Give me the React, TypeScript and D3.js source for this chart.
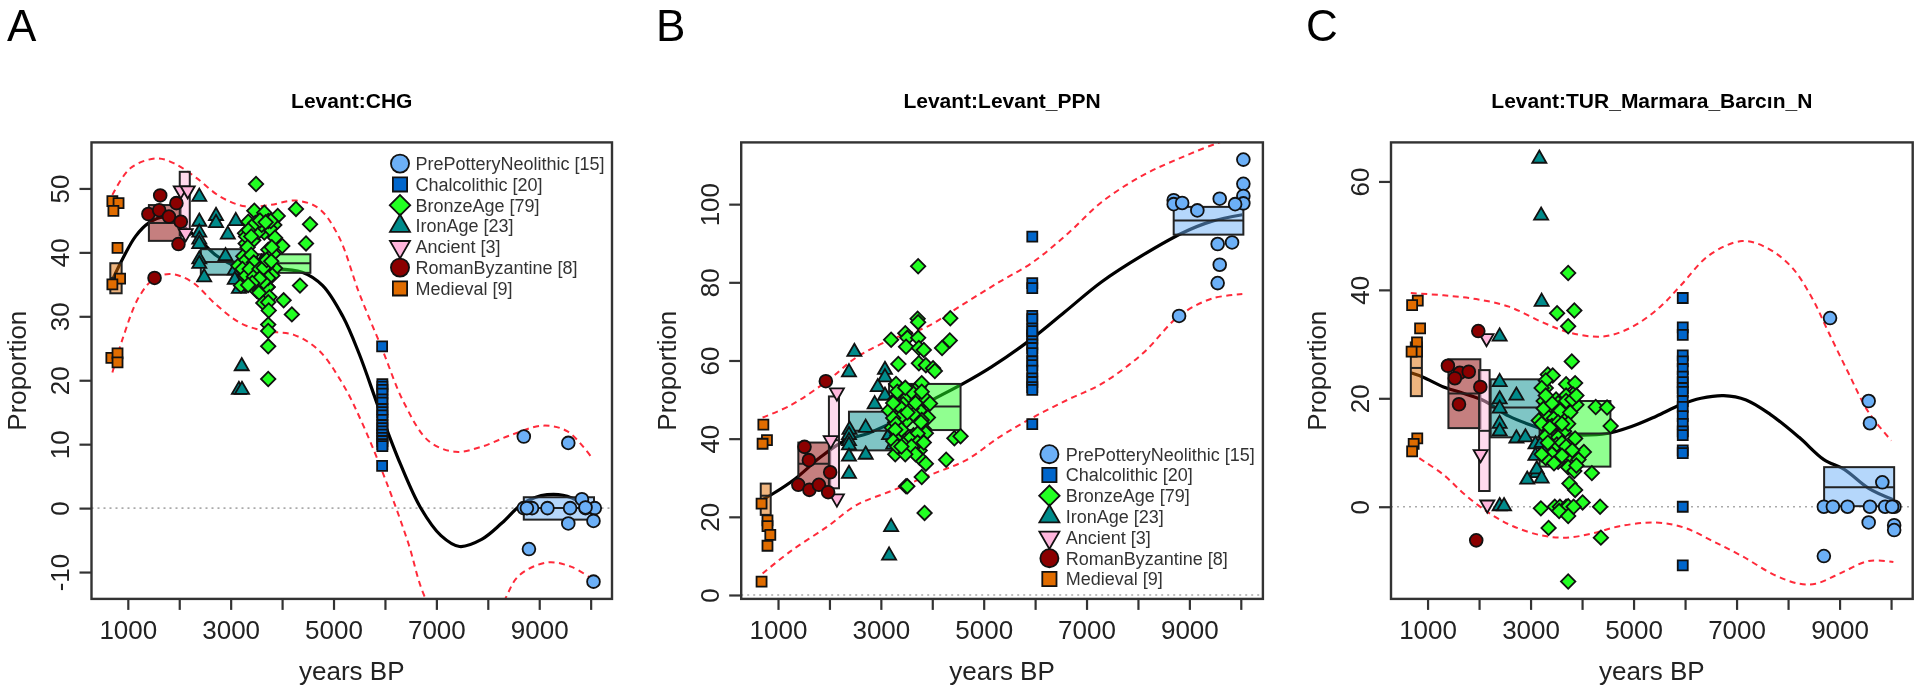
import { useEffect, useRef } from "react";
import * as d3 from "d3";

type Pt = [number, number];
// group index, x min, x max, q1, median, q3
type Box = [number, number, number, number, number, number];

const groupNames = [
  "PrePotteryNeolithic [15]",
  "Chalcolithic [20]",
  "BronzeAge [79]",
  "IronAge [23]",
  "Ancient [3]",
  "RomanByzantine [8]",
  "Medieval [9]",
];
const groupFill = ["#6cb0f7", "#0066cc", "#22ff22", "#008b8b", "#ffb6dc", "#8b0000", "#e06c00"];
// order the groups are painted in
const drawOrder = [0, 1, 6, 3, 4, 5, 2];

const xTicks = [1000, 2000, 3000, 4000, 5000, 6000, 7000, 8000, 9000, 10000];
const xLabelled = [1000, 3000, 5000, 7000, 9000];

// ---- Levant:CHG ----
const chgPPN: Pt[] = [[8700, 0], [8700, 11.2], [8860, 0], [8800, -6.4], [9160, 0], [9565, 10.2], [9565, -2.4], [9600, 0], [9830, 1.4], [9900, 0], [10080, 0], [10055, -2], [10055, -11.5], [9900, 0.1], [8760, 0]];
const chgChalco: Pt[] = [[5945, 25.3], [5945, 6.6], [5950, 19.4], [5950, 19], [5950, 18.5], [5950, 17.9], [5950, 17], [5950, 16.5], [5950, 15.5], [5950, 15], [5950, 14.5], [5950, 13.8], [5950, 13], [5950, 12.5], [5950, 12], [5950, 11.5], [5950, 11], [5950, 10.5], [5950, 10], [5950, 9.7]];
const chgBronze: Pt[] = [[3493, 50.7], [3460, 46.5], [3654, 46.2], [3915, 45.7], [4270, 46.8], [4543, 44.4], [4465, 41.4], [4348, 34.8], [3343, 44.8], [3654, 43.1], [3292, 41.4], [3440, 41.9], [3849, 44.3], [3765, 43.7], [3862, 42.3], [4004, 41], [3279, 43], [3537, 43.2], [3732, 44.9], [3604, 44.3], [3732, 39.3], [3732, 40.4], [3829, 39.8], [3312, 39.8], [3149, 37.9], [3292, 37.4], [3506, 38.1], [3765, 36.4], [3862, 37.5], [3700, 37.8], [3506, 35.5], [3720, 34.6], [3201, 34.8], [3376, 35.7], [3604, 36.8], [3343, 38.7], [3246, 39.4], [3409, 36.6], [3279, 36.2], [3506, 34], [3570, 34.9], [3555, 33.7], [3715, 34.6], [3755, 33], [3635, 32.1], [3730, 32.2], [3740, 30.9], [3730, 28.7], [3730, 27.7], [3730, 25.3], [3730, 20.2], [4190, 30.3], [4030, 32.5], [3300, 42.5], [3350, 43.5], [3400, 42.5], [3480, 44.6], [3570, 45], [3330, 40.8], [3300, 38.8], [3400, 39.6], [3450, 38.4], [3230, 37.4], [3300, 36.4], [3370, 37.4], [3450, 36.2], [3560, 37.4], [3640, 37.6], [3700, 38.8], [3790, 38.6], [3810, 36.4], [3730, 36], [3640, 35.4], [3560, 35.9], [3420, 35.2], [3340, 34.9], [3780, 44.9], [3680, 44.7], [3800, 40.8]];
const chgIron: Pt[] = [[2390, 48.7], [2715, 45.7], [2715, 44.6], [3100, 44.9], [2390, 44.8], [2390, 43.1], [2390, 42], [2390, 41.3], [2945, 42.8], [2900, 39.4], [2390, 38.9], [2390, 38.2], [2485, 36.1], [3080, 37.2], [3080, 35.7], [3200, 34.5], [3280, 34.8], [3215, 22.2], [3160, 18.5], [3220, 18.5], [3160, 34.3], [3360, 37.8], [3600, 38.4]];
const chgAncient: Pt[] = [[2030, 49.7], [2165, 49.7], [2125, 43]];
const chgRoman: Pt[] = [[1630, 48.9], [1400, 46], [1610, 46.6], [1800, 45.6], [1945, 47.7], [2030, 44.8], [1985, 41.3], [1520, 36]];
const chgMedieval: Pt[] = [[700, 48], [820, 47.7], [720, 46.5], [800, 40.7], [850, 35.9], [700, 35], [680, 23.5], [800, 24.2], [800, 22.8]];
const chgBoxes: Box[] = [
  [6, 660, 880, 33.6, 36, 38.3],
  [5, 1410, 2030, 41.8, 44.6, 47.4],
  [4, 2010, 2205, 42.7, 49.7, 52.6],
  [3, 2420, 3360, 36.5, 38.5, 40.5],
  [2, 3160, 4550, 36.8, 38.3, 39.7],
  [1, 5890, 6010, 10.2, 14, 18.5],
  [0, 8700, 10065, -1.8, 0, 1.7],
];
const chgMean: Pt[] = [[690, 35.5], [900, 39], [1150, 42.5], [1410, 44.6], [1700, 45.5], [2000, 44.5], [2400, 41.9], [2720, 39.5], [3120, 37.8], [3675, 37.5], [4390, 36.9], [4790, 34.8], [5180, 30], [5500, 24.1], [5900, 15.2], [6300, 6.9], [6690, 0.1], [7090, -4.3], [7450, -6], [7880, -4.9], [8280, -2.3], [8680, 0.7], [9155, 2.1], [9630, 1.6], [10030, -1]];
const chgUpper: Pt[] = [[700, 49], [1055, 53.2], [1570, 54.7], [1930, 53.8], [2325, 51.7], [2800, 48.7], [3280, 47.2], [3755, 47.4], [4270, 48.1], [4710, 46.9], [5100, 42.5], [5500, 33.6], [5940, 25], [6375, 16.4], [6850, 10.5], [7370, 8.8], [7880, 9.6], [8440, 11.4], [9075, 12.9], [9550, 12], [10030, 7.8]];
const chgLower: Pt[] = [[700, 21.2], [900, 26.5], [1215, 33], [1530, 36], [1850, 36.6], [2245, 35.4], [2720, 31.8], [3200, 28.9], [3675, 27.7], [4230, 27.1], [4710, 24.7], [5180, 19.4], [5580, 12.9], [6060, 3.4], [6455, -5.5], [6770, -13.8], [7500, -24], [8280, -15], [8600, -10.6], [9155, -8.5], [9630, -9.2], [10030, -11.1]];

// ---- Levant:Levant_PPN ----
const ppnPPN: Pt[] = [[10050, 111.4], [10050, 105.2], [10050, 102.1], [10050, 100.2], [8695, 101], [8695, 100], [8860, 100.3], [9155, 98.4], [9590, 101.4], [9890, 100], [9550, 89.8], [9830, 90.2], [9590, 84.5], [9550, 79.8], [8800, 71.4]];
const ppnChalco: Pt[] = [[5945, 91.7], [5945, 79.8], [5945, 78.5], [5945, 43.7], [5945, 71.4], [5945, 70.6], [5945, 68.2], [5945, 66.4], [5945, 65.6], [5945, 64.1], [5945, 63.2], [5945, 61.9], [5945, 59.8], [5945, 58.8], [5945, 57.4], [5945, 55.4], [5945, 54.5], [5945, 53.2], [5945, 52.5], [5945, 67.5]];
const ppnBronze: Pt[] = [[3725, 84.1], [3715, 70.7], [3725, 69.8], [4350, 70.8], [4340, 65.1], [4190, 63.2], [3200, 65.3], [3475, 67], [3515, 65.8], [3725, 65.8], [3490, 63.5], [3740, 63.2], [3835, 62.7], [3340, 59.1], [3740, 59.3], [3875, 58.8], [4015, 58], [4050, 57.3], [3295, 54], [3740, 53.3], [3795, 54.2], [3400, 52.2], [3280, 50.1], [3515, 50.6], [3715, 50.1], [3875, 50.1], [3435, 48.8], [3160, 47.2], [3755, 47.2], [3295, 45.4], [3915, 45.4], [3490, 44.5], [3215, 42.8], [3835, 42.5], [3320, 40.9], [3635, 40.9], [3875, 41.4], [4430, 40.1], [4550, 40.6], [3400, 40.4], [3515, 37], [3280, 36], [3755, 37], [3755, 35.1], [4270, 34.6], [3875, 33.6], [3795, 30.2], [3490, 27.8], [3515, 27.8], [3850, 21], [3320, 52], [3595, 52], [3475, 53], [3795, 52], [3360, 48.2], [3595, 47.7], [3240, 49.1], [3400, 45.7], [3635, 46.2], [3795, 44.8], [3240, 45.3], [3300, 43.8], [3780, 44.2], [3715, 41.3], [3400, 42.3], [3280, 42.3], [3555, 39.9], [3715, 39], [3835, 39], [3240, 39.4], [3440, 38.5], [3595, 38], [3320, 38], [3675, 36], [3475, 36], [3675, 49.1], [3515, 46.7], [3955, 49], [3400, 38]];
const ppnIron: Pt[] = [[2485, 62.2], [2380, 57], [3080, 57.6], [3080, 55.7], [2940, 53.2], [3080, 51], [2880, 48.8], [2390, 42.3], [2705, 42.8], [2380, 40.9], [2380, 39.4], [2380, 38.3], [3240, 38.5], [2380, 35.4], [2705, 35.9], [2380, 31], [3200, 17.4], [3160, 10.1], [3280, 43.3], [3280, 45.3], [3160, 40.9], [3400, 39.9], [3320, 37.5]];
const ppnAncient: Pt[] = [[2145, 51.8], [2025, 39.6], [2145, 24.7]];
const ppnRoman: Pt[] = [[1930, 54.7], [1515, 37.9], [1600, 34.5], [2015, 31.4], [1395, 28.2], [1610, 26.9], [1795, 28.2], [1975, 26.3]];
const ppnMedieval: Pt[] = [[715, 43.6], [785, 39.6], [700, 38.7], [680, 23.4], [795, 19.1], [795, 17.6], [850, 15.4], [795, 12.6], [680, 3.4]];
const ppnBoxes: Box[] = [
  [6, 664, 858, 20.5, 25.4, 28.5],
  [5, 1395, 2015, 27.8, 33.6, 39],
  [4, 1990, 2186, 27.3, 39.6, 50.8],
  [3, 2380, 3240, 37, 42, 46.9],
  [2, 3160, 4550, 42.2, 48.2, 54],
  [1, 5890, 6010, 54, 63, 71],
  [0, 8695, 10050, 92.2, 95.8, 99.3],
];
const ppnMean: Pt[] = [[700, 24.4], [900, 25.9], [1330, 29.7], [1810, 35.1], [2285, 39.4], [2760, 41.4], [3400, 45.3], [4030, 50.1], [4590, 54], [5145, 58.3], [5940, 65.6], [6575, 72.4], [7290, 80.1], [8085, 86.9], [8875, 92.7], [9430, 95.6], [10030, 97.3]];
const ppnUpper: Pt[] = [[700, 45.4], [1255, 48.6], [1970, 54.9], [2525, 60.8], [3240, 65.6], [3875, 68.5], [4590, 74.3], [5305, 80.1], [5940, 85], [6655, 92.7], [7290, 100.5], [8085, 107.3], [8875, 112.1], [9590, 115.8], [10030, 117.4]];
const ppnLower: Pt[] = [[700, 5.5], [1255, 11.3], [1970, 17.6], [2525, 23], [3240, 26.8], [3955, 30.7], [4670, 34.6], [5305, 40.4], [5940, 45.3], [6655, 50.1], [7290, 54], [8085, 61.7], [8800, 71.4], [9430, 75.8], [10030, 77]];

// ---- Levant:TUR_Marmara_Barcın_N ----
const turPPN: Pt[] = [[8815, 34.8], [9565, 19.5], [9590, 15.4], [9830, 4.5], [8695, 0], [8870, 0], [9155, 0], [9590, 0], [9885, 0], [10065, 0], [10020, 0], [9565, -2.9], [10060, -3.4], [10060, -4.3], [8695, -9.1]];
const turChalco: Pt[] = [[5955, 38.5], [5955, 33.1], [5955, 31.7], [5955, 27.9], [5955, 26.8], [5955, 25.4], [5955, 24], [5955, 23], [5955, 21.9], [5955, 21.2], [5955, 19.5], [5955, 18.4], [5955, 16.7], [5955, 15.3], [5955, 13.9], [5955, 13.2], [5955, 10.4], [5955, 9.9], [5955, 0], [5955, -10.8]];
const turBronze: Pt[] = [[3730, 43.1], [3850, 36.2], [3515, 35.7], [3730, 33.3], [3800, 26.8], [3335, 24.4], [3430, 24.2], [3295, 21.9], [3295, 23.3], [3690, 22.6], [3865, 22.8], [3825, 20.7], [3690, 20.5], [3255, 19.5], [3495, 19.8], [3730, 18.8], [3890, 18.8], [3360, 18.4], [4265, 18.4], [4485, 18.3], [3295, 17], [3455, 16.3], [3650, 16], [3160, 15.9], [4555, 14.9], [3375, 13.9], [3650, 13.9], [3295, 13], [3535, 12.8], [3865, 12.6], [3510, 11.5], [3755, 9.5], [3415, 9.7], [4035, 10.1], [3930, 8.7], [3295, 9], [3535, 8.3], [3730, 7.3], [3850, 6.6], [4190, 6.2], [3755, 4.3], [3865, 3.1], [4010, 0.8], [3200, -0.3], [3470, 0], [3570, 0], [3690, 0], [3730, 0.1], [3835, 0], [4350, 0], [3555, -0.8], [3730, -1.7], [3350, -3.9], [4365, -5.7], [3730, -13.8], [3215, 21.9], [3535, 19.1], [3690, 19.5], [3810, 19.8], [3255, 18.1], [3415, 19.1], [3575, 17.7], [3770, 17.4], [3215, 15.3], [3415, 14.9], [3535, 15.6], [3730, 15.3], [3335, 11.8], [3610, 11.8], [3690, 11.1], [3810, 10.4], [3215, 9.7], [3455, 8], [3610, 9.4], [3890, 7.6], [3375, 14.6], [3610, 15.3], [3890, 20.5], [3295, 20.5]];
const turIron: Pt[] = [[3170, 64.2], [3205, 53.7], [3215, 37.8], [2400, 31.4], [2400, 23], [2725, 20.5], [2400, 19.8], [2400, 18.1], [2400, 15.3], [2400, 13.9], [2725, 12.6], [2900, 12.8], [3095, 11.5], [3095, 9.4], [3215, 11.8], [3120, 6.2], [3120, 6.9], [2935, 5], [2400, 0.1], [2485, 0.1], [3215, 5.2], [3375, 12], [3295, 10.4]];
const turAncient: Pt[] = [[2145, 31.1], [2030, 9.7], [2160, 0.4]];
const turRoman: Pt[] = [[1985, 32.4], [1395, 26], [1625, 24.7], [1800, 24.9], [1530, 23.7], [2025, 22.1], [1610, 18.9], [1945, -6.2]];
const turMedieval: Pt[] = [[810, 38], [700, 37.2], [855, 32.9], [795, 30.3], [795, 28.6], [690, 28.6], [800, 12.6], [730, 11.6], [700, 10.2]];
const turBoxes: Box[] = [
  [6, 675, 890, 20.4, 25.6, 30.3],
  [5, 1405, 2025, 14.5, 20.9, 27.2],
  [4, 2000, 2205, 2.9, 14, 25.2],
  [3, 2225, 3215, 12.8, 18.3, 23.5],
  [2, 3175, 4550, 7.4, 13.5, 19.5],
  [1, 5890, 6010, 14, 21, 27.9],
  [0, 8700, 10060, 0.1, 3.6, 7.3],
];
const turMean: Pt[] = [[675, 24.7], [915, 23.9], [1310, 22.1], [1705, 20.9], [2105, 19.5], [2580, 16.7], [3055, 14.9], [3535, 13.5], [4010, 13.2], [4485, 13.5], [4960, 14.8], [5440, 16.7], [5915, 18.8], [6310, 20], [6750, 20.5], [7185, 19.7], [7660, 17], [8215, 12.8], [8695, 8.7], [9090, 6.9], [9565, 3.4], [10045, 1.3]];
const turUpper: Pt[] = [[675, 39.4], [1310, 39], [1945, 38.3], [2580, 36.9], [3215, 34.1], [3770, 32.1], [4405, 31.4], [4960, 33.1], [5520, 36.9], [5915, 40.8], [6470, 46.4], [7105, 49], [7580, 47.8], [8060, 44.3], [8455, 38.7], [8775, 32.4], [9170, 24.7], [9565, 17.4], [10005, 12.2]];
const turLower: Pt[] = [[675, 10.1], [835, 9], [1310, 5.9], [1705, 2.4], [2185, -1.1], [2660, -3.6], [3215, -5.3], [3690, -5.7], [4170, -5], [4725, -3.6], [5440, -2.9], [5995, -3.9], [6550, -6.4], [7105, -9.1], [7740, -12.6], [8215, -14.2], [8535, -14.2], [9010, -12.3], [9565, -10], [10045, -10.2]];

const panels = [
  {
    letter: "A", letterX: 7, title: "Levant:CHG",
    left: 91.5, right: 612, xDomain: [294, 10415], yDomain: [-14.2, 57.2],
    yTicks: [-10, 0, 10, 20, 30, 40, 50],
    groups: [chgPPN, chgChalco, chgBronze, chgIron, chgAncient, chgRoman, chgMedieval],
    boxes: chgBoxes, mean: chgMean, upper: chgUpper, lower: chgLower,
    legend: { symbolX: 400, textX: 415.5, top: 163.6 },
  },
  {
    letter: "B", letterX: 656, title: "Levant:Levant_PPN",
    left: 741.2, right: 1262.9, xDomain: [284, 10430], yDomain: [-1, 115.8],
    yTicks: [0, 20, 40, 60, 80, 100],
    groups: [ppnPPN, ppnChalco, ppnBronze, ppnIron, ppnAncient, ppnRoman, ppnMedieval],
    boxes: ppnBoxes, mean: ppnMean, upper: ppnUpper, lower: ppnLower,
    legend: { symbolX: 1049.4, textX: 1065.7, top: 454.2 },
  },
  {
    letter: "C", letterX: 1306, title: "Levant:TUR_Marmara_Barcın_N",
    left: 1391, right: 1912.7, xDomain: [290, 10420], yDomain: [-17, 67.2],
    yTicks: [0, 20, 40, 60],
    groups: [turPPN, turChalco, turBronze, turIron, turAncient, turRoman, turMedieval],
    boxes: turBoxes, mean: turMean, upper: turUpper, lower: turLower,
    legend: null,
  },
];

const font = "'Liberation Sans', Arial, sans-serif";
const top = 142.4;
const bottom = 598.9;
const ink = "#222";

// path + transform for each group's marker, k scales it up for the legend
const marker = (group: number, k = 1) => {
  const s = k * k;
  if (group === 0 || group === 5)
    return { d: d3.symbol(d3.symbolCircle, 128 * s)(), rot: 0 };
  if (group === 1 || group === 6)
    return { d: d3.symbol(d3.symbolSquare, 100 * s)(), rot: 0 };
  if (group === 2)
    return { d: d3.symbol(d3.symbolSquare, 104 * s)(), rot: 45 };
  return { d: d3.symbol(d3.symbolTriangle, 86 * s)(), rot: group === 4 ? 180 : 0 };
};

const App = () => {
  const chartRef = useRef<SVGSVGElement>(null);

  useEffect(() => {
    if (!chartRef.current) return;
    const svg = d3.select(chartRef.current);
    svg.selectAll("*").remove();

    panels.forEach((p, pi) => {
      const x = d3.scaleLinear().domain(p.xDomain).range([p.left, p.right]);
      const y = d3.scaleLinear().domain(p.yDomain).range([bottom, top]);
      const g = svg.append("g");

      g.append("clipPath")
        .attr("id", `clip${pi}`)
        .append("rect")
        .attr("x", p.left)
        .attr("y", top)
        .attr("width", p.right - p.left)
        .attr("height", bottom - top);

      // panel letter and title
      g.append("text")
        .attr("x", p.letterX)
        .attr("y", 41)
        .attr("font-size", 44)
        .attr("fill", "#000")
        .text(p.letter);
      g.append("text")
        .attr("x", (p.left + p.right) / 2)
        .attr("y", 107.5)
        .attr("text-anchor", "middle")
        .attr("font-size", 21)
        .attr("font-weight", "bold")
        .attr("fill", "#000")
        .text(p.title);

      // zero line
      g.append("line")
        .attr("x1", p.left)
        .attr("x2", p.right)
        .attr("y1", y(0))
        .attr("y2", y(0))
        .attr("stroke", "#aaa")
        .attr("stroke-width", 1.6)
        .attr("stroke-dasharray", "2 4");

      // fit and its envelope
      const line = d3
        .line<Pt>()
        .x((d) => x(d[0]))
        .y((d) => y(d[1]))
        .curve(d3.curveCatmullRom);
      const curves = g.append("g").attr("clip-path", `url(#clip${pi})`).attr("fill", "none");
      curves.append("path").attr("d", line(p.mean)).attr("stroke", "#000").attr("stroke-width", 3.2);
      [p.upper, p.lower].forEach((c) =>
        curves
          .append("path")
          .attr("d", line(c))
          .attr("stroke", "#ff2a3a")
          .attr("stroke-width", 2)
          .attr("stroke-dasharray", "6 4.5")
      );

      // period boxes
      p.boxes.forEach(([group, x0, x1, q1, med, q3]) => {
        g.append("rect")
          .attr("x", x(x0))
          .attr("y", y(q3))
          .attr("width", x(x1) - x(x0))
          .attr("height", y(q1) - y(q3))
          .attr("fill", d3.color(groupFill[group])!.copy({ opacity: 0.5 }).toString())
          .attr("stroke", ink)
          .attr("stroke-width", 2);
        g.append("line")
          .attr("x1", x(x0))
          .attr("x2", x(x1))
          .attr("y1", y(med))
          .attr("y2", y(med))
          .attr("stroke", ink)
          .attr("stroke-width", 2);
      });

      // samples
      drawOrder.forEach((group) => {
        const m = marker(group);
        g.append("g")
          .selectAll("path")
          .data(p.groups[group])
          .join("path")
          .attr("d", m.d)
          .attr("transform", (d) => `translate(${x(d[0])},${y(d[1])}) rotate(${m.rot})`)
          .attr("fill", groupFill[group])
          .attr("stroke", "#111")
          .attr("stroke-width", 1.8);
      });

      // frame
      g.append("rect")
        .attr("x", p.left)
        .attr("y", top)
        .attr("width", p.right - p.left)
        .attr("height", bottom - top)
        .attr("fill", "none")
        .attr("stroke", "#333")
        .attr("stroke-width", 2.4);

      // axes
      const xAxis = g
        .append("g")
        .attr("transform", `translate(0,${bottom})`)
        .call(
          d3
            .axisBottom(x)
            .tickValues(xTicks)
            .tickSize(11)
            .tickFormat((d) => (xLabelled.includes(+d) ? String(d) : ""))
        );
      const yAxis = g
        .append("g")
        .attr("transform", `translate(${p.left},0)`)
        .call(
          d3
            .axisLeft(y)
            .tickValues(p.yTicks)
            .tickSize(12)
            .tickFormat((d) => String(d))
        );
      [xAxis, yAxis].forEach((a) => {
        a.select(".domain").remove();
        a.attr("font-family", font).attr("font-size", 26);
        a.selectAll("line").attr("stroke", "#333").attr("stroke-width", 2.2);
        a.selectAll("text").attr("fill", ink);
      });
      xAxis.selectAll("text").attr("y", 39.7).attr("dy", 0);
      yAxis
        .selectAll("text")
        .attr("x", 0)
        .attr("dy", 0)
        .attr("text-anchor", "middle")
        .attr("transform", "translate(-22.5,0) rotate(-90)");

      // axis titles
      g.append("text")
        .attr("x", (p.left + p.right) / 2)
        .attr("y", 680)
        .attr("text-anchor", "middle")
        .attr("font-size", 26)
        .attr("fill", ink)
        .text("years BP");
      g.append("text")
        .attr("transform", `translate(${p.left - 65.5},${(top + bottom) / 2}) rotate(-90)`)
        .attr("text-anchor", "middle")
        .attr("font-size", 26)
        .attr("fill", ink)
        .text("Proportion");

      // legend
      if (p.legend) {
        const { symbolX, textX, top: legendTop } = p.legend;
        groupNames.forEach((name, i) => {
          const cy = legendTop + i * 20.8;
          const m = marker(i, 1.42);
          g.append("path")
            .attr("d", m.d)
            .attr("transform", `translate(${symbolX},${cy}) rotate(${m.rot})`)
            .attr("fill", groupFill[i])
            .attr("stroke", "#111")
            .attr("stroke-width", 1.8);
          g.append("text")
            .attr("x", textX)
            .attr("y", cy + 6.4)
            .attr("font-size", 18)
            .attr("fill", "#333")
            .text(name);
        });
      }
    });
  }, []);

  return (
    <svg
      ref={chartRef}
      width={1920}
      height={696}
      fontFamily={font}
      style={{ position: "absolute", left: 0, top: 0, background: "#fff", filter: "blur(0.5px)" }}
    />
  );
};

export default App;
